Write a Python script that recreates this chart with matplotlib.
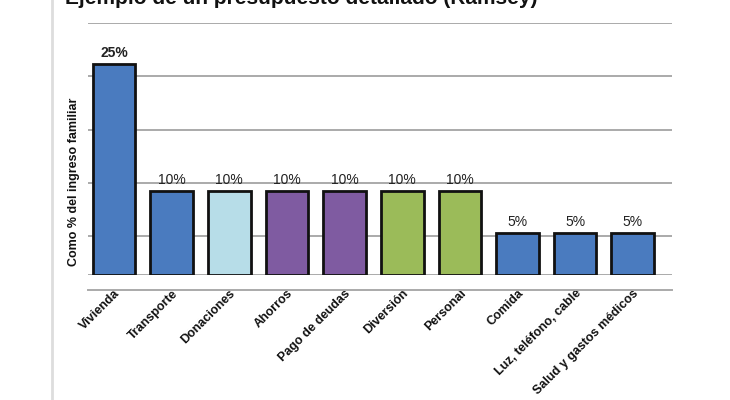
import matplotlib
matplotlib.use("Agg")
import matplotlib.pyplot as plt
from matplotlib.lines import Line2D

# Budget categories and their share of family income (%).
categories = [
    "Vivienda", "Transporte", "Donaciones", "Ahorros", "Pago de deudas",
    "Diversión", "Personal", "Comida", "Luz, teléfono, cable",
    "Salud y gastos médicos",
]
shares = [25, 10, 10, 10, 10, 10, 10, 5, 5, 5]
groups = ["needs", "needs", "give", "save", "save",
          "fun", "fun", "needs", "needs", "needs"]

group_colors = {
    "needs": "#4a7bbf",
    "give": "#b7dde8",
    "save": "#7f5ba1",
    "fun": "#9bbb59",
}

plt.rcParams["font.family"] = ["Liberation Sans", "DejaVu Sans"]

fig = plt.figure(figsize=(7.3, 4.0), dpi=100)
ax = fig.add_axes([88 / 730, 1 - 275 / 400, (672 - 88) / 730, (275 - 23) / 400])

x = list(range(len(categories)))
colors = [group_colors[g] for g in groups]
bars = ax.bar(x, shares, width=0.74, color=colors, edgecolor="#111111",
              linewidth=2.0, zorder=3)

# Value labels above each bar.
for rect, v in zip(bars, shares):
    ax.annotate(f"{v}%", (rect.get_x() + rect.get_width() / 2, rect.get_height()),
                xytext=(0, 3), textcoords="offset points", ha="center",
                va="bottom", fontsize=10, color="#222222",
                fontweight="bold" if v == max(shares) else "normal")

# Axes ranges and gridlines (chart has unlabeled, evenly spaced gridlines).
ymax = 29.9
grid_step = 6.32
ax.set_ylim(0, ymax)
ax.set_xlim(-0.45, len(categories) - 1 + 0.68)
ax.set_yticks([ymax - k * grid_step for k in range(5)] + [0])
ax.tick_params(axis="y", length=0, labelleft=False)
ax.grid(axis="y", color="#aaaaaa", linewidth=1.4, zorder=0)
for s in ax.spines.values():
    s.set_visible(False)

# Extra rule below the baseline.
ax.axhline(-ymax * 15 / 252, color="#aaaaaa", linewidth=1.4, clip_on=False)

ax.set_xticks(x)
ax.set_xticklabels(categories, rotation=45, ha="right",
                   rotation_mode="anchor", fontsize=9, fontweight="bold",
                   color="#111111")
ax.tick_params(axis="x", length=0, pad=9)

ax.set_ylabel("Como % del ingreso familiar", fontsize=9, fontweight="bold",
              color="#111111")
ax.yaxis.set_label_coords(-0.014, 0.37)

# Title (cut off at the top edge of the image).
fig.text(65 / 730, 1 - 4.5 / 400, "Ejemplo de un presupuesto detallado (Ramsey)",
         fontsize=15, fontweight="bold", va="baseline", ha="left",
         color="#111111")

# Light frame line on the left.
fig.add_artist(Line2D([52 / 730, 52 / 730], [0, 1], color="#dddddd",
                      linewidth=2, transform=fig.transFigure))

fig.savefig("out.png", dpi=100)
plt.close(fig)
